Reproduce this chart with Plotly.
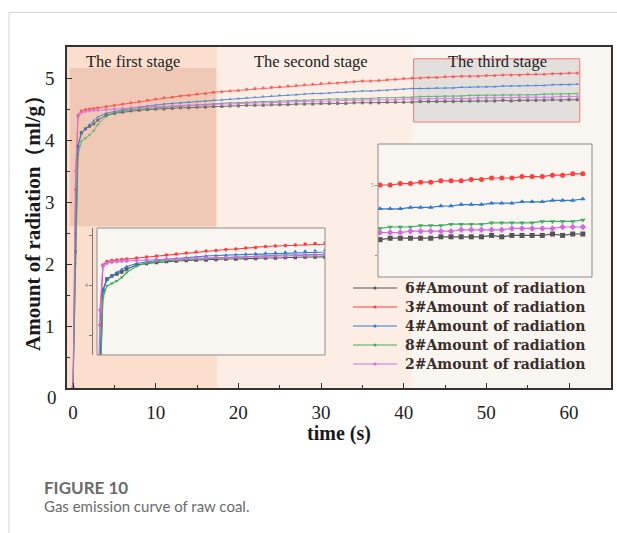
import plotly.graph_objects as go

# ---------------- data ----------------
TIME = [0, 0.3, 0.6, 1, 1.5, 2, 2.5, 3] + list(range(4, 62))

S6 = [0, 2.2, 3.9, 4.12, 4.18, 4.22, 4.26, 4.32,
      4.40, 4.43, 4.45, 4.47, 4.48, 4.49, 4.50, 4.50, 4.51, 4.52,
      4.52, 4.53, 4.53, 4.54, 4.54, 4.55, 4.55, 4.56, 4.56, 4.56,
      4.57, 4.57, 4.57, 4.58, 4.58, 4.58, 4.59, 4.59, 4.59, 4.59,
      4.60, 4.60, 4.60, 4.60, 4.61, 4.61, 4.61, 4.61, 4.62, 4.62,
      4.62, 4.62, 4.62, 4.63, 4.63, 4.63, 4.63, 4.63, 4.64, 4.63,
      4.64, 4.64, 4.64, 4.64, 4.65, 4.64, 4.65, 4.65]
S3 = [0, 3.2, 4.40, 4.47, 4.49, 4.50, 4.51, 4.52,
      4.54, 4.56, 4.58, 4.60, 4.62, 4.64, 4.66, 4.68, 4.69, 4.71,
      4.72, 4.74, 4.75, 4.77, 4.78, 4.79, 4.80, 4.82, 4.83, 4.84,
      4.85, 4.86, 4.87, 4.88, 4.89, 4.90, 4.91, 4.92, 4.92, 4.93,
      4.94, 4.95, 4.95, 4.96, 4.97, 4.98, 4.99, 5.00, 5.00, 5.01,
      5.01, 5.02, 5.02, 5.03, 5.03, 5.03, 5.04, 5.04, 5.05, 5.05,
      5.05, 5.06, 5.06, 5.06, 5.07, 5.07, 5.08, 5.08]
S4 = [0, 2.5, 3.9, 4.10, 4.18, 4.25, 4.31, 4.37,
      4.43, 4.46, 4.49, 4.51, 4.53, 4.55, 4.56, 4.58, 4.59, 4.60,
      4.61, 4.62, 4.63, 4.64, 4.65, 4.66, 4.67, 4.68, 4.69, 4.70,
      4.71, 4.72, 4.72, 4.73, 4.74, 4.75, 4.75, 4.76, 4.77, 4.77,
      4.78, 4.79, 4.79, 4.80, 4.80, 4.81, 4.82, 4.83, 4.83, 4.83,
      4.84, 4.84, 4.84, 4.85, 4.85, 4.86, 4.86, 4.86, 4.87, 4.87,
      4.87, 4.88, 4.88, 4.88, 4.89, 4.89, 4.89, 4.90]
S8 = [0, 2.0, 3.75, 3.98, 4.03, 4.08, 4.15, 4.25,
      4.38, 4.44, 4.47, 4.49, 4.50, 4.51, 4.52, 4.53, 4.54, 4.55,
      4.56, 4.57, 4.57, 4.58, 4.59, 4.60, 4.60, 4.61, 4.61, 4.62,
      4.62, 4.63, 4.63, 4.64, 4.64, 4.65, 4.65, 4.66, 4.66, 4.66,
      4.67, 4.67, 4.67, 4.68, 4.68, 4.68, 4.69, 4.69, 4.70, 4.70,
      4.70, 4.71, 4.71, 4.71, 4.72, 4.72, 4.72, 4.72, 4.73, 4.73,
      4.73, 4.73, 4.73, 4.74, 4.74, 4.74, 4.74, 4.75]
S2 = [0, 3.5, 4.38, 4.44, 4.46, 4.47, 4.48, 4.48,
      4.49, 4.50, 4.51, 4.52, 4.52, 4.53, 4.54, 4.54, 4.55, 4.55,
      4.56, 4.56, 4.57, 4.57, 4.58, 4.58, 4.59, 4.59, 4.60, 4.60,
      4.60, 4.61, 4.61, 4.62, 4.62, 4.62, 4.63, 4.63, 4.63, 4.64,
      4.64, 4.64, 4.65, 4.65, 4.65, 4.65, 4.66, 4.66, 4.66, 4.66,
      4.67, 4.67, 4.67, 4.67, 4.67, 4.68, 4.68, 4.68, 4.68, 4.68,
      4.69, 4.69, 4.69, 4.69, 4.69, 4.70, 4.70, 4.70]

NAMES = ["6#Amount of radiation", "3#Amount of radiation", "4#Amount of radiation",
         "8#Amount of radiation", "2#Amount of radiation"]
SERIES = [S6, S3, S4, S8, S2]
COLORS = ["#555555", "#ff3d3d", "#2f78d4", "#3fae62", "#d36be0"]
SYMBOLS = ["square", "circle", "triangle-up", "triangle-down", "diamond"]

X_TICKS = [0, 10, 20, 30, 40, 50, 60]
Y_TICKS = [0, 1, 2, 3, 4, 5]
Y_TICKTEXT = ["", "1", "2", "3", "4", "5"]   # the "0" is set lower-left of the corner
STAGE_LABELS = ["The first stage", "The second stage", "The third stage"]
STAGE_BOUNDS = [17.5, 41.0]  # s

# ---------------- figure ----------------
W, H = 617, 533
def px(x):
    return x / W
def py(y):
    return (H - y) / H

fig = go.Figure()

for name, s, c, sym in zip(NAMES, SERIES, COLORS, SYMBOLS):
    fig.add_trace(go.Scatter(x=TIME, y=s, name=name, mode="lines+markers", showlegend=False,
                             line=dict(color=c, width=1), opacity=0.8,
                             marker=dict(symbol=sym, size=3, color=c),
                             xaxis="x", yaxis="y"))
for s, c, sym in zip(SERIES, COLORS, SYMBOLS):
    fig.add_trace(go.Scatter(x=TIME, y=s, mode="lines+markers", showlegend=False,
                             line=dict(color=c, width=1.2),
                             marker=dict(symbol=sym, size=3.5, color=c),
                             xaxis="x2", yaxis="y2"))
for s, c, sym in zip(SERIES, COLORS, SYMBOLS):
    fig.add_trace(go.Scatter(x=TIME, y=s, mode="lines+markers", showlegend=False,
                             line=dict(color=c, width=1.2),
                             marker=dict(symbol=sym, size=5, color=c),
                             xaxis="x3", yaxis="y3"))

serif = "Liberation Serif, Times New Roman, serif"
XR = [-0.73, 65.08]
YR = [0, 5.5]

shapes = [
    # card borders
    dict(type="line", xref="paper", yref="paper", x0=px(9), x1=1, y0=py(12.5), y1=py(12.5),
         line=dict(color="#d4d4d4", width=1)),
    dict(type="line", xref="paper", yref="paper", x0=px(9), x1=px(9), y0=0, y1=py(12.5),
         line=dict(color="#d4d4d4", width=1)),
    # stage bands
    dict(type="rect", xref="x", yref="y domain", x0=XR[0], x1=STAGE_BOUNDS[0], y0=0, y1=1,
         fillcolor="rgb(252,222,206)", line=dict(width=0), layer="below"),
    dict(type="rect", xref="x", yref="y domain", x0=STAGE_BOUNDS[0], x1=STAGE_BOUNDS[1], y0=0, y1=1,
         fillcolor="rgb(253,238,229)", line=dict(width=0), layer="below"),
    # darker block in first stage
    dict(type="rect", xref="x", yref="y", x0=-0.4, x1=17.3, y0=2.61, y1=5.16,
         fillcolor="rgb(240,201,182)", line=dict(width=0), layer="below"),
    # third stage box
    dict(type="rect", xref="x", yref="y", x0=41.2, x1=61.3, y0=4.29, y1=5.31,
         fillcolor="rgb(226,223,221)", line=dict(color="#f07a7a", width=1), layer="below"),
    # inset frames
    dict(type="rect", xref="x2 domain", yref="y2 domain", x0=0, x1=1, y0=0, y1=1,
         line=dict(color="#8c8c8c", width=1)),
    dict(type="rect", xref="x3 domain", yref="y3 domain", x0=0, x1=1, y0=0, y1=1,
         line=dict(color="#8c8c8c", width=1)),
]

def ann(text, x, y, size, xanchor="center", family=serif, color="#1a1a1a", angle=0):
    return dict(text=text, x=x, y=y, xref="paper", yref="paper",
                xanchor=xanchor, yanchor="middle", showarrow=False, textangle=angle,
                font=dict(family=family, size=size, color=color))

annotations = [
    dict(text=STAGE_LABELS[0], x=7.2, y=5.26, xref="x", yref="y", showarrow=False,
         xanchor="center", yanchor="middle", font=dict(family=serif, size=16.5, color="#222")),
    dict(text=STAGE_LABELS[1], x=28.8, y=5.26, xref="x", yref="y", showarrow=False,
         xanchor="center", yanchor="middle", font=dict(family=serif, size=16.5, color="#222")),
    dict(text=STAGE_LABELS[2], x=51.3, y=5.26, xref="x", yref="y", showarrow=False,
         xanchor="center", yanchor="middle", font=dict(family=serif, size=16.5, color="#222")),
    ann(str(Y_TICKS[0]), px(52), py(397), 19, color="#222"),
    ann("<b>time (s)</b>", px(339), py(433), 20),
    ann("<b>Amount of radiation（ml/g）</b>", px(33), py(218), 21, angle=-90),
    ann("<b>FIGURE 10</b>", px(42), py(487), 17, xanchor="left", family="Lato", color="#6b6b6b"),
    ann("Gas emission curve of raw coal.", px(42), py(506), 15, xanchor="left",
        family="Lato", color="#6b6b6b"),
]

# legend keys (drawn as a key list beside the curves)
LEG_X0, LEG_X1, LEG_TX, LEG_Y0, LEG_DY = 353, 397, 403, 288, 19
for i, (name, c) in enumerate(zip(NAMES, COLORS)):
    yy = LEG_Y0 + i * LEG_DY
    shapes.append(dict(type="line", xref="paper", yref="paper", x0=px(LEG_X0), x1=px(LEG_X1),
                       y0=py(yy), y1=py(yy), line=dict(color=c, width=1)))
    shapes.append(dict(type="circle", xref="paper", yref="paper",
                       x0=px((LEG_X0 + LEG_X1) / 2 - 1.5), x1=px((LEG_X0 + LEG_X1) / 2 + 1.5),
                       y0=py(yy + 1.5), y1=py(yy - 1.5), fillcolor=c, line=dict(width=0)))
    annotations.append(ann("<b>" + name + "</b>", px(LEG_TX), py(yy), 14, xanchor="left",
                           family="DejaVu Serif", color="#3a2e2a"))

fig.update_layout(
    width=W, height=H, margin=dict(l=0, r=0, t=0, b=0),
    paper_bgcolor="white", plot_bgcolor="rgb(249,246,242)",
    showlegend=False,
    xaxis=dict(domain=[px(67), px(611)], range=XR, showline=True, linecolor="#333",
               linewidth=1.5, mirror=True, ticks="inside", ticklen=5, tickcolor="#333",
               tickvals=X_TICKS, showgrid=False, zeroline=False, ticklabelstandoff=6,
               tickfont=dict(family=serif, size=19, color="#222"),
               minor=dict(ticks="inside", ticklen=3, dtick=5, tick0=0, tickcolor="#333"),
               anchor="y"),
    yaxis=dict(domain=[py(388), py(47)], range=YR, showline=True, linecolor="#333",
               linewidth=1.5, mirror=True, ticks="inside", ticklen=5, tickcolor="#333",
               tickvals=Y_TICKS, ticktext=Y_TICKTEXT, showgrid=False, zeroline=False,
               ticklabelstandoff=7,
               tickfont=dict(family=serif, size=19, color="#222"),
               minor=dict(ticks="inside", ticklen=3, dtick=0.5, tick0=0, tickcolor="#333"),
               anchor="x"),
    xaxis2=dict(domain=[px(97), px(325)], range=[0, 23], showline=False, showgrid=False,
                zeroline=False, showticklabels=False, ticks="", anchor="y2"),
    yaxis2=dict(domain=[py(355), py(228)], range=[2.6, 5.14], showline=True,
                linecolor="#777", linewidth=1, showgrid=False, zeroline=False,
                ticks="outside", ticklen=3, tickcolor="#777",
                tickvals=[3, 4, 5], ticktext=["", "4", ""],
                tickfont=dict(family=serif, size=6, color="#777"),
                anchor="free", position=px(92), side="left"),
    xaxis3=dict(domain=[px(378), px(592)], range=[40.8, 61.9], showline=False, showgrid=False,
                zeroline=False, showticklabels=False, ticks="", anchor="y3"),
    yaxis3=dict(domain=[py(277), py(144)], range=[4.343, 5.293], showline=False,
                showgrid=False, zeroline=False, ticks="outside", ticklen=2, tickcolor="#888",
                tickvals=[4.5, 5], ticktext=["", "5"],
                tickfont=dict(family=serif, size=6, color="#888"),
                anchor="x3"),
    shapes=shapes,
    annotations=annotations,
)

fig.write_html("out.html")
